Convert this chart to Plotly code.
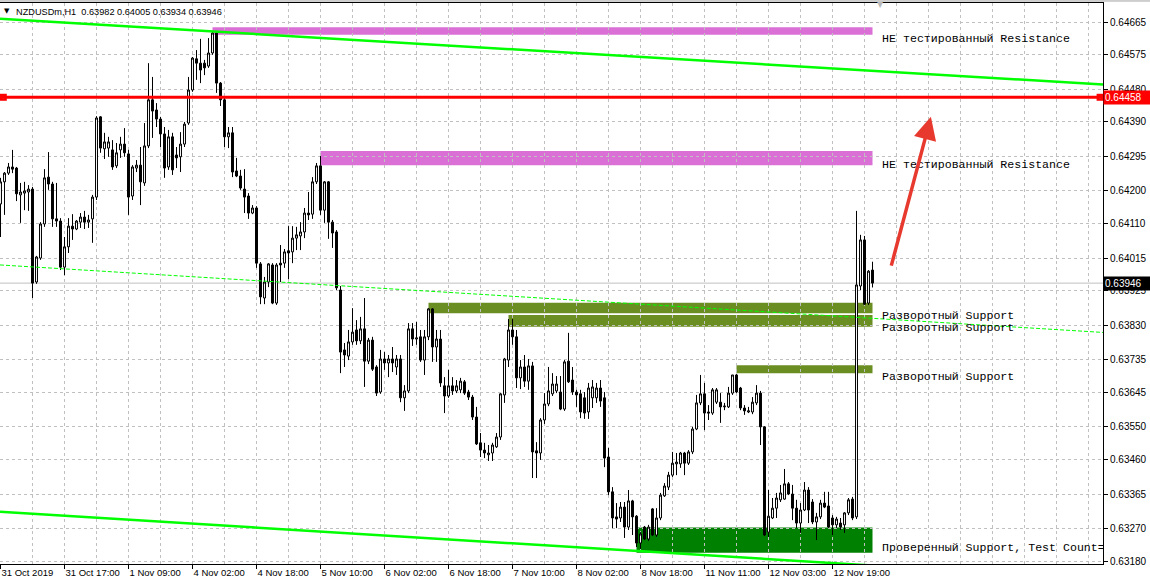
import plotly.graph_objects as go

# ---------------- data (NZDUSDm, H1) ----------------
open_ = [
0.64164,0.64225,0.64249,0.64266,0.64263,0.64189,0.64194,0.64197,0.64205,0.63949,
0.64015,0.64109,0.64238,0.64219,0.64123,0.64117,0.63990,0.64046,0.64103,0.64095,
0.64114,0.64128,0.64114,0.64123,0.64183,0.64404,0.64316,0.64318,0.64313,0.64269,
0.64313,0.64329,0.64302,0.64186,0.64263,0.64271,0.64222,0.64324,0.64451,0.64423,
0.64398,0.64357,0.64266,0.64349,0.64299,0.64294,0.64329,0.64387,0.64478,0.64564,
0.64552,0.64552,0.64544,0.64580,0.64635,0.64497,0.64451,0.64349,0.64360,0.64255,
0.64241,0.64205,0.64186,0.64139,0.64153,0.63999,0.63905,0.63949,0.63996,0.63891,
0.64001,0.64001,0.64035,0.64032,0.64070,0.64076,0.64087,0.64139,0.64136,0.64225,
0.64269,0.64147,0.64225,0.64114,0.64087,0.63927,0.63762,0.63745,0.63784,0.63817,
0.63787,0.63820,0.63731,0.63789,0.63715,0.63646,0.63737,0.63726,0.63737,0.63715,
0.63737,0.63630,0.63649,0.63820,0.63792,0.63798,0.63734,0.63798,0.63875,0.63770,
0.63792,0.63663,0.63635,0.63663,0.63649,0.63652,0.63674,0.63646,0.63632,0.63577,
0.63506,0.63486,0.63473,0.63478,0.63495,0.63522,0.63638,0.63734,0.63817,0.63798,
0.63685,0.63715,0.63676,0.63718,0.63484,0.63478,0.63569,0.63613,0.63641,0.63649,
0.63646,0.63599,0.63731,0.63679,0.63646,0.63641,0.63630,0.63591,0.63630,0.63630,
0.63657,0.63630,0.63467,0.63371,0.63302,0.63299,0.63329,0.63274,0.63346,0.63304,
0.63230,0.63274,0.63241,0.63324,0.63252,0.63299,0.63360,0.63384,0.63417,0.63448,
0.63448,0.63478,0.63450,0.63481,0.63544,0.63616,0.63641,0.63591,0.63588,0.63618,
0.63618,0.63605,0.63605,0.63643,0.63693,0.63657,0.63602,0.63591,0.63591,0.63616,
0.63643,0.63550,0.63260,0.63299,0.63326,0.63349,0.63351,0.63393,0.63365,0.63326,
0.63285,0.63321,0.63376,0.63343,0.63288,0.63302,0.63340,0.63332,0.63299,0.63280,
0.63285,0.63280,0.63313,0.63351,0.63302,0.63938,0.64065,0.63891,0.63982]

high = [
0.64236,0.64252,0.64277,0.64313,0.64266,0.64222,0.64225,0.64216,0.64211,0.64021,
0.64114,0.64260,0.64307,0.64225,0.64222,0.64125,0.64073,0.64125,0.64136,0.64120,
0.64139,0.64145,0.64134,0.64189,0.64406,0.64406,0.64360,0.64349,0.64340,0.64332,
0.64349,0.64373,0.64313,0.64271,0.64285,0.64321,0.64387,0.64552,0.64514,0.64442,
0.64404,0.64376,0.64368,0.64360,0.64321,0.64362,0.64390,0.64514,0.64569,0.64588,
0.64619,0.64561,0.64621,0.64641,0.64641,0.64500,0.64456,0.64376,0.64376,0.64291,
0.64258,0.64260,0.64194,0.64161,0.64158,0.64004,0.63963,0.64001,0.64001,0.64001,
0.64051,0.64040,0.64103,0.64103,0.64101,0.64114,0.64153,0.64197,0.64238,0.64277,
0.64296,0.64227,0.64227,0.64120,0.64092,0.63938,0.63781,0.63817,0.63877,0.63844,
0.63853,0.63905,0.63795,0.63798,0.63720,0.63762,0.63756,0.63748,0.63770,0.63748,
0.63748,0.63665,0.63836,0.63836,0.63839,0.63817,0.63817,0.63877,0.63877,0.63817,
0.63817,0.63687,0.63707,0.63687,0.63679,0.63685,0.63679,0.63652,0.63638,0.63605,
0.63533,0.63506,0.63500,0.63506,0.63533,0.63643,0.63740,0.63847,0.63847,0.63817,
0.63734,0.63748,0.63737,0.63729,0.63508,0.63574,0.63643,0.63715,0.63698,0.63690,
0.63690,0.63734,0.63809,0.63715,0.63652,0.63652,0.63646,0.63671,0.63679,0.63671,
0.63679,0.63646,0.63492,0.63384,0.63340,0.63343,0.63343,0.63376,0.63349,0.63307,
0.63260,0.63277,0.63280,0.63326,0.63326,0.63368,0.63395,0.63426,0.63481,0.63478,
0.63481,0.63481,0.63486,0.63550,0.63638,0.63693,0.63671,0.63610,0.63657,0.63657,
0.63643,0.63616,0.63660,0.63693,0.63696,0.63660,0.63610,0.63605,0.63632,0.63665,
0.63649,0.63552,0.63376,0.63354,0.63368,0.63390,0.63434,0.63398,0.63390,0.63349,
0.63340,0.63398,0.63384,0.63351,0.63313,0.63349,0.63371,0.63371,0.63307,0.63302,
0.63299,0.63315,0.63354,0.63357,0.64145,0.64079,0.64076,0.63982,0.64005]

low = [
0.64073,0.64134,0.64244,0.64249,0.64172,0.64112,0.64147,0.64145,0.63905,0.63944,
0.64010,0.64101,0.64203,0.64101,0.64101,0.63982,0.63968,0.64029,0.64065,0.64092,
0.64098,0.64095,0.64098,0.64057,0.64175,0.64305,0.64288,0.64294,0.64258,0.64263,
0.64291,0.64294,0.64134,0.64175,0.64252,0.64161,0.64214,0.64318,0.64346,0.64376,
0.64321,0.64236,0.64258,0.64244,0.64263,0.64252,0.64321,0.64382,0.64473,0.64506,
0.64497,0.64519,0.64539,0.64575,0.64470,0.64434,0.64321,0.64318,0.64238,0.64238,
0.64203,0.64139,0.64123,0.64136,0.63988,0.63888,0.63888,0.63935,0.63888,0.63886,
0.63949,0.63988,0.63957,0.64001,0.64037,0.64037,0.64070,0.64120,0.64123,0.64219,
0.64134,0.64112,0.64068,0.64043,0.63927,0.63698,0.63715,0.63734,0.63776,0.63776,
0.63778,0.63660,0.63723,0.63704,0.63635,0.63641,0.63707,0.63687,0.63701,0.63693,
0.63618,0.63594,0.63643,0.63773,0.63776,0.63729,0.63693,0.63789,0.63729,0.63729,
0.63660,0.63588,0.63630,0.63638,0.63643,0.63643,0.63638,0.63624,0.63569,0.63500,
0.63467,0.63464,0.63456,0.63456,0.63492,0.63514,0.63616,0.63715,0.63776,0.63657,
0.63654,0.63660,0.63652,0.63409,0.63409,0.63459,0.63558,0.63607,0.63635,0.63643,
0.63596,0.63594,0.63671,0.63638,0.63605,0.63574,0.63572,0.63572,0.63602,0.63616,
0.63605,0.63439,0.63362,0.63271,0.63271,0.63288,0.63244,0.63266,0.63252,0.63219,
0.63214,0.63238,0.63236,0.63249,0.63247,0.63293,0.63357,0.63376,0.63412,0.63417,
0.63437,0.63417,0.63445,0.63475,0.63541,0.63610,0.63541,0.63569,0.63583,0.63613,
0.63561,0.63596,0.63602,0.63638,0.63643,0.63596,0.63583,0.63588,0.63585,0.63610,
0.63500,0.63249,0.63247,0.63296,0.63299,0.63343,0.63349,0.63362,0.63293,0.63271,
0.63258,0.63318,0.63285,0.63282,0.63238,0.63296,0.63326,0.63271,0.63252,0.63271,
0.63266,0.63258,0.63307,0.63293,0.63296,0.63927,0.63886,0.63886,0.63934]

close = [
0.64225,0.64249,0.64266,0.64260,0.64192,0.64197,0.64200,0.64205,0.63946,0.64018,
0.64109,0.64236,0.64219,0.64123,0.64117,0.63990,0.64046,0.64103,0.64095,0.64117,
0.64128,0.64114,0.64120,0.64183,0.64401,0.64318,0.64335,0.64335,0.64266,0.64305,
0.64329,0.64305,0.64183,0.64266,0.64271,0.64225,0.64324,0.64451,0.64420,0.64398,
0.64357,0.64263,0.64349,0.64258,0.64291,0.64329,0.64384,0.64478,0.64566,0.64552,
0.64533,0.64539,0.64580,0.64635,0.64497,0.64451,0.64349,0.64360,0.64252,0.64241,
0.64208,0.64183,0.64139,0.64153,0.64001,0.63908,0.63949,0.63999,0.63891,0.63996,
0.63996,0.64032,0.64029,0.64070,0.64079,0.64087,0.64139,0.64134,0.64225,0.64269,
0.64147,0.64225,0.64114,0.64084,0.63933,0.63756,0.63748,0.63784,0.63811,0.63787,
0.63820,0.63731,0.63789,0.63709,0.63643,0.63737,0.63726,0.63737,0.63726,0.63737,
0.63630,0.63649,0.63820,0.63792,0.63795,0.63734,0.63798,0.63875,0.63770,0.63792,
0.63671,0.63635,0.63663,0.63649,0.63663,0.63676,0.63643,0.63632,0.63577,0.63503,
0.63486,0.63478,0.63478,0.63500,0.63522,0.63641,0.63737,0.63817,0.63798,0.63685,
0.63715,0.63676,0.63718,0.63481,0.63478,0.63569,0.63613,0.63649,0.63668,0.63668,
0.63599,0.63729,0.63674,0.63646,0.63638,0.63591,0.63588,0.63657,0.63660,0.63657,
0.63621,0.63464,0.63371,0.63299,0.63296,0.63329,0.63274,0.63346,0.63302,0.63230,
0.63255,0.63241,0.63274,0.63252,0.63299,0.63362,0.63387,0.63417,0.63450,0.63453,
0.63478,0.63450,0.63481,0.63544,0.63616,0.63641,0.63588,0.63588,0.63652,0.63652,
0.63605,0.63607,0.63643,0.63693,0.63646,0.63602,0.63594,0.63594,0.63618,0.63643,
0.63550,0.63252,0.63304,0.63326,0.63354,0.63368,0.63393,0.63365,0.63326,0.63285,
0.63321,0.63376,0.63321,0.63288,0.63302,0.63340,0.63329,0.63274,0.63280,0.63296,
0.63274,0.63313,0.63349,0.63299,0.63941,0.64065,0.63888,0.63979,0.63946]

n = min(len(open_), len(high), len(low), len(close))
bars = list(range(n))

# time axis labels (one every 16 bars)
time_tick_bars = [0, 16, 32, 48, 64, 80, 96, 112, 128, 144, 160, 176, 192, 208]
time_tick_labels = ["31 Oct 2019", "31 Oct 17:00", "1 Nov 09:00", "4 Nov 02:00",
                    "4 Nov 18:00", "5 Nov 10:00", "6 Nov 02:00", "6 Nov 18:00",
                    "7 Nov 10:00", "8 Nov 02:00", "8 Nov 18:00", "11 Nov 11:00",
                    "12 Nov 03:00", "12 Nov 19:00"]

# price axis labels
price_tick_labels = ["0.64665", "0.64575", "0.64480", "0.64390", "0.64295", "0.64200",
                     "0.64110", "0.64015", "0.63925", "0.63830", "0.63735", "0.63645",
                     "0.63550", "0.63460", "0.63365", "0.63270", "0.63180"]
price_tick_vals = [float(s) for s in price_tick_labels]

# zones (rectangles)
resist_start = [53, 80]
resist_low = [0.64630, 0.64271]
resist_high = [0.64651, 0.64310]
resist_text_y = [0.64619, 0.64271]

support_start = [107, 127, 184]
support_low = [0.63863, 0.63826, 0.63698]
support_high = [0.63892, 0.63858, 0.63720]
support_text_y = [0.63855, 0.63823, 0.63688]

tested_start = [159]
tested_low = [0.63203]
tested_high = [0.63273]
tested_text_y = [0.63216]

zone_end = 218

# trend lines: anchor bars and prices
upper_line_bars = [0, 218]
upper_line_prices = [0.64674, 0.64531]
lower_line_bars = [0, 218]
lower_line_prices = [0.63316, 0.63168]
mid_line_bars = [0, 218]
mid_line_prices = [0.63996, 0.63849]

red_level = 0.64458

arrow_tail = (222.6, 0.63990)
arrow_head = (232.6, 0.64404)

X_MIN, X_MAX = -0.125, 275.625
Y_MIN, Y_MAX = 0.631722, 0.647177


def extend(bx, py):
    slope = (py[1] - py[0]) / (bx[1] - bx[0])
    return [X_MIN, X_MAX], [py[0] + slope * (X_MIN - bx[0]), py[0] + slope * (X_MAX - bx[0])]


GRID = "#C0C0C0"
fig = go.Figure()

# candles
fig.add_trace(go.Candlestick(
    x=bars, open=open_[:n], high=high[:n], low=low[:n], close=close[:n],
    increasing=dict(line=dict(color="black", width=1), fillcolor="white"),
    decreasing=dict(line=dict(color="black", width=1), fillcolor="black"),
    whiskerwidth=0, hoverinfo="skip", showlegend=False,
))

# trend lines
for bx, py, dash, w in [(upper_line_bars, upper_line_prices, "solid", 2.5),
                        (lower_line_bars, lower_line_prices, "solid", 2.5),
                        (mid_line_bars, mid_line_prices, "4px,2px", 1)]:
    xs, ys = extend(bx, py)
    fig.add_trace(go.Scatter(x=xs, y=ys, mode="lines",
                             line=dict(color="#00FF00", width=w, dash=dash),
                             hoverinfo="skip", showlegend=False))

# zone rectangles
shapes = []
for s, lo, hi in zip(resist_start, resist_low, resist_high):
    shapes.append(dict(type="rect", x0=s, x1=zone_end, y0=lo, y1=hi, xref="x", yref="y",
                       fillcolor="#DA70D6", line=dict(width=0), layer="below"))
for s, lo, hi in zip(support_start, support_low, support_high):
    shapes.append(dict(type="rect", x0=s, x1=zone_end, y0=lo, y1=hi, xref="x", yref="y",
                       fillcolor="#6B8E23", line=dict(width=0), layer="below"))
for s, lo, hi in zip(tested_start, tested_low, tested_high):
    shapes.append(dict(type="rect", x0=s, x1=zone_end, y0=lo, y1=hi, xref="x", yref="y",
                       fillcolor="#008000", line=dict(width=0), layer="below"))

# current price (bid) line
shapes.append(dict(type="line", xref="paper", x0=0, x1=1, yref="y", y0=close[n - 1], y1=close[n - 1],
                   line=dict(color="#C0C0C0", width=1), layer="between"))
# red horizontal level
shapes.append(dict(type="line", xref="paper", x0=0, x1=1, yref="y", y0=red_level, y1=red_level,
                   line=dict(color="#FF0000", width=3), layer="above"))
# window edge line above chart
shapes.append(dict(type="line", xref="paper", x0=0, x1=1.05, yref="paper", y0=1.0036, y1=1.0036,
                   line=dict(color="#A0A0A0", width=1)))

# red level anchor squares
fig.add_trace(go.Scatter(x=[0.7, 274.9], y=[red_level, red_level], mode="markers",
                         marker=dict(symbol="square", size=7, color="#FF0000"),
                         cliponaxis=False, hoverinfo="skip", showlegend=False))
fig.add_trace(go.Scatter(x=[0.7, 274.9], y=[red_level, red_level], mode="markers",
                         marker=dict(symbol="square", size=2, color="white"),
                         cliponaxis=False, hoverinfo="skip", showlegend=False))

# zone labels
label_x = 220.4
lab_font = dict(family="Liberation Mono, Courier New, monospace", size=11.6, color="black")
fig.add_trace(go.Scatter(
    x=[label_x] * (len(resist_text_y) + len(support_text_y) + len(tested_text_y)),
    y=resist_text_y + support_text_y + tested_text_y,
    mode="text",
    text=["НЕ тестированный Resistance"] * len(resist_text_y)
         + ["Разворотный Support"] * len(support_text_y)
         + ["Проверенный Support, Test Count=1"] * len(tested_text_y),
    textposition="middle right", textfont=lab_font,
    cliponaxis=True, hoverinfo="skip", showlegend=False))

annotations = []
# arrow
annotations.append(dict(x=arrow_head[0], y=arrow_head[1], ax=arrow_tail[0], ay=arrow_tail[1],
                        xref="x", yref="y", axref="x", ayref="y", text="", showarrow=True,
                        arrowhead=2, arrowsize=1.3, arrowwidth=3.5, arrowcolor="#E8392F",
                        standoff=0, startstandoff=0))
# price tags on axis
annotations.append(dict(x=1, xref="paper", xanchor="left", xshift=0, y=red_level, yref="y",
                        text=f"{red_level:.5f}", showarrow=False, bgcolor="#FF0000",
                        font=dict(family="Liberation Sans, Arial", size=10, color="white"),
                        borderpad=1, width=44, align="left"))
annotations.append(dict(x=1, xref="paper", xanchor="left", xshift=0, y=close[n - 1], yref="y",
                        text=f"{close[n - 1]:.5f}", showarrow=False, bgcolor="black",
                        font=dict(family="Liberation Sans, Arial", size=10, color="white"),
                        borderpad=1, width=44, align="left"))
# header text
header = f"NZDUSDm,H1  {open_[n-1]:.5f} {high[n-1]:.5f} {low[n-1]:.5f} {close[n-1]:.5f}"
annotations.append(dict(x=14 / 1103, xref="paper", xanchor="left", y=(564 - 12) / 561, yref="paper",
                        yanchor="middle", text=header, showarrow=False,
                        font=dict(family="Liberation Sans, Arial", size=9.2, color="black")))
annotations.append(dict(x=7 / 1103, xref="paper", xanchor="center", y=(564 - 11) / 561, yref="paper",
                        yanchor="middle", text="▼", showarrow=False,
                        font=dict(family="DejaVu Sans", size=7, color="black")))
annotations.append(dict(x=880 / 1103, xref="paper", xanchor="center", y=(564 - 5) / 561, yref="paper",
                        yanchor="middle", text="▼", showarrow=False,
                        font=dict(family="DejaVu Sans", size=8, color="#B8B8B8")))

minor_vals = [v for v in range(0, 280, 8) if v not in time_tick_bars]

fig.update_layout(
    width=1150, height=584,
    margin=dict(l=0, r=47, t=3, b=20, autoexpand=False),
    paper_bgcolor="white", plot_bgcolor="white",
    showlegend=False,
    shapes=shapes, annotations=annotations,
    boxgap=0.3,
    font=dict(family="Liberation Sans, Arial", size=10, color="black"),
    xaxis=dict(
        range=[X_MIN, X_MAX], rangeslider=dict(visible=False),
        tickvals=time_tick_bars, ticktext=time_tick_labels, tickangle=0,
        ticks="outside", ticklen=4, tickcolor="black", tickwidth=1,
        ticklabelposition="outside right",
        tickfont=dict(family="Liberation Sans, Arial", size=9.5, color="black"),
        showline=True, linecolor="black", linewidth=1, mirror=True,
        showgrid=True, gridcolor=GRID, griddash="3px,3px", gridwidth=1,
        minor=dict(tickvals=minor_vals, showgrid=True, gridcolor=GRID, griddash="3px,3px",
                   gridwidth=1, ticks=""),
        zeroline=False, fixedrange=True, automargin=False,
    ),
    yaxis=dict(
        side="right", range=[Y_MIN, Y_MAX],
        tickvals=price_tick_vals, ticktext=price_tick_labels,
        ticks="outside", ticklen=4, tickcolor="black", tickwidth=1,
        tickfont=dict(family="Liberation Sans, Arial", size=10, color="black"),
        showline=True, linecolor="black", linewidth=1,
        showgrid=True, gridcolor=GRID, griddash="3px,3px", gridwidth=1,
        zeroline=False, fixedrange=True, automargin=False,
    ),
)

fig.write_html("out.html",
               config={"displayModeBar": False, "staticPlot": True},
               post_script="document.body.style.margin='0px';document.body.style.overflow='hidden';")
